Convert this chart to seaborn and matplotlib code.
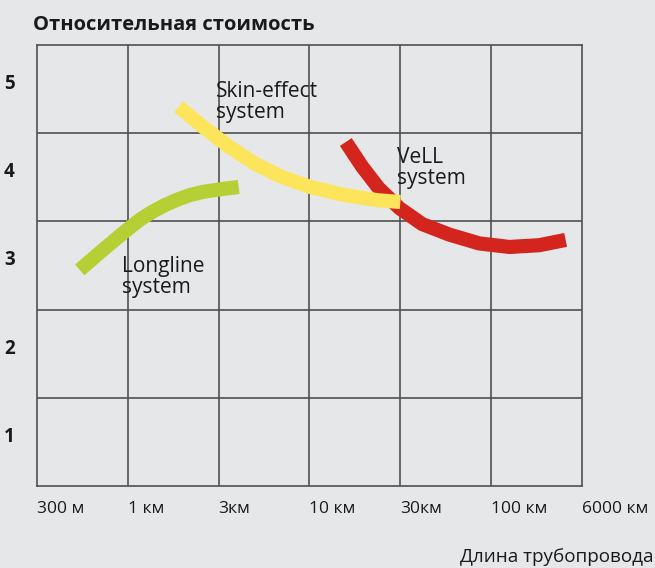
import matplotlib
matplotlib.use("Agg")
import matplotlib.pyplot as plt
import seaborn as sns
import pandas as pd

# Pipeline length categories (evenly spaced on the x axis)
length_labels = ["300 м", "1 км", "3км", "10 км", "30км", "100 км", "6000 км"]
cost_levels = [1, 2, 3, 4, 5]

# Relative cost curves (x in category units, y in cost units)
longline_x = [0.47, 0.73, 0.88, 1.01, 1.14, 1.28, 1.41, 1.54, 1.69, 1.83, 2.06, 2.22]
longline_y = [2.95, 3.18, 3.31, 3.42, 3.525, 3.615, 3.685, 3.745, 3.80, 3.835, 3.87, 3.89]

skin_x = [1.56, 1.83, 2.11, 2.39, 2.68, 3.01, 3.38, 3.75, 4.00]
skin_y = [4.80, 4.57, 4.35, 4.16, 4.01, 3.89, 3.80, 3.74, 3.72]

vell_x = [3.40, 3.58, 3.76, 3.99, 4.24, 4.54, 4.87, 5.20, 5.53, 5.82]
vell_y = [4.40, 4.12, 3.88, 3.65, 3.47, 3.35, 3.25, 3.21, 3.23, 3.29]

BG = "#e6e7e9"
GRID = "#505050"
INK = "#1a1a1a"

sns.set_theme(style="white")
plt.rcParams["font.family"] = ["Open Sans", "DejaVu Sans"]

fig = plt.figure(figsize=(6.55, 5.68), dpi=100, facecolor=BG)
ax = fig.add_axes([0.0565, 0.1444, 0.832, 0.7764])
ax.set_facecolor(BG)

series = [
    ("Longline", longline_x, longline_y, "#b5cf34"),
    ("VeLL", vell_x, vell_y, "#d3241d"),
    ("Skin-effect", skin_x, skin_y, "#fde55b"),
]
for name, xs, ys, col in series:
    df = pd.DataFrame({"x": xs, "y": ys})
    sns.lineplot(data=df, x="x", y="y", ax=ax, color=col, linewidth=10.2,
                 sort=False, estimator=None, solid_capstyle="butt",
                 solid_joinstyle="round")

ax.set_xlim(0, 6)
ax.set_ylim(0.5, 5.5)
ax.set_xticks(range(len(length_labels)))
ax.set_xticklabels(length_labels, ha="left", fontsize=12.5, color=INK)
ax.set_yticks(cost_levels)
ax.set_yticklabels([str(v) for v in cost_levels], fontsize=13.5,
                   fontweight="bold", color=INK, va="baseline")
ax.tick_params(axis="x", length=0, pad=11)
ax.tick_params(axis="y", which="both", length=0, pad=16)
ax.grid(False)
for xv in range(1, 6):
    ax.axvline(xv, color=GRID, linewidth=1.2, zorder=0)
for yv in [1.5, 2.5, 3.5, 4.5]:
    ax.axhline(yv, color=GRID, linewidth=1.2, zorder=0)
for sp in ax.spines.values():
    sp.set_color(GRID)
    sp.set_linewidth(1.2)
ax.set_xlabel("")
ax.set_ylabel("")

txt = dict(fontsize=15, color=INK, va="top", ha="left", linespacing=1.0)
ax.text(1.97, 5.09, "Skin-effect\nsystem", **txt)
ax.text(0.94, 3.11, "Longline\nsystem", **txt)
ax.text(3.96, 4.34, "VeLL\nsystem", **txt)

fig.text(33 / 655, 1 - 25 / 568, "Относительная стоимость", fontsize=14.5,
         fontweight="bold", color=INK, va="center", ha="left")
fig.text(653 / 655, 1 - 557 / 568, "Длина трубопровода", fontsize=13.6,
         color=INK, va="center", ha="right")

fig.savefig("out.png", dpi=100, facecolor=BG)
